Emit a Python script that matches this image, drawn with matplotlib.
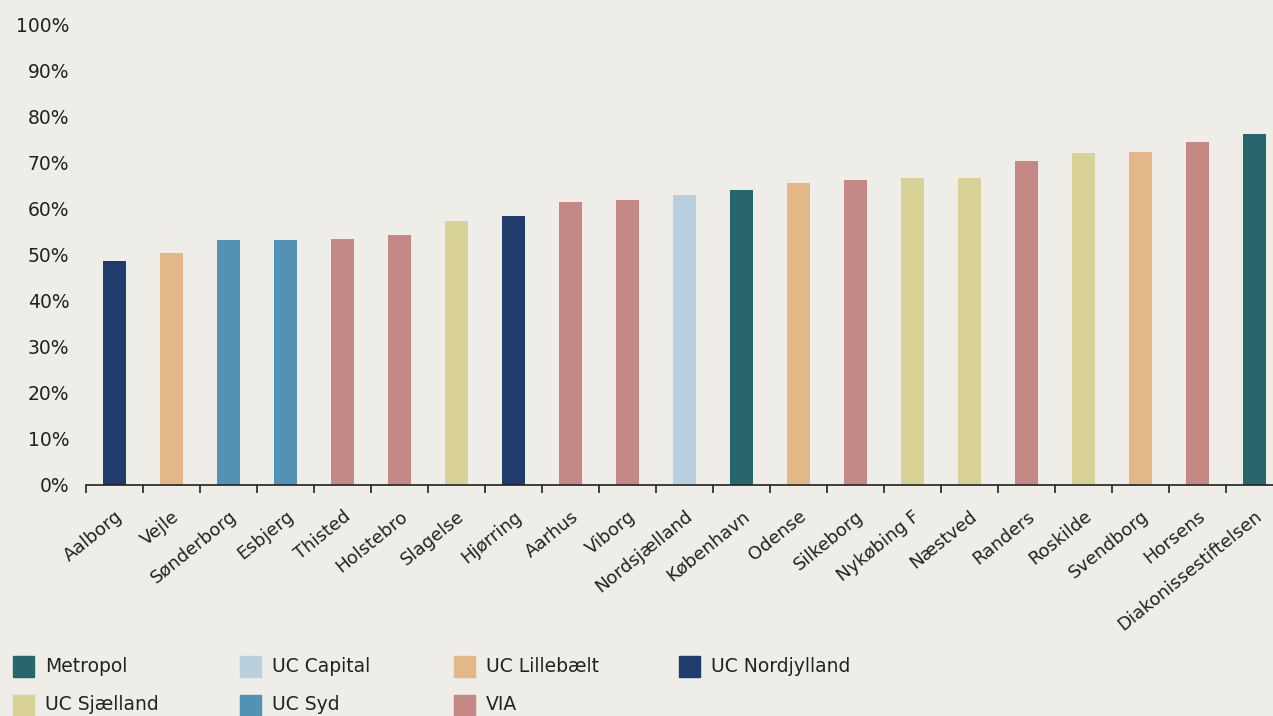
import matplotlib.pyplot as plt
from matplotlib.patches import Rectangle

# data
schools = ["Aalborg", "Vejle", "Sønderborg", "Esbjerg", "Thisted", "Holstebro",
           "Slagelse", "Hjørring", "Aarhus", "Viborg", "Nordsjælland", "København",
           "Odense", "Silkeborg", "Nykøbing F", "Næstved", "Randers", "Roskilde",
           "Svendborg", "Horsens", "Diakonissestiftelsen"]
shares = [48.6, 50.4, 53.2, 53.2, 53.4, 54.3, 57.3, 58.4, 61.3, 61.9, 62.8, 63.9,
          65.6, 66.2, 66.5, 66.7, 70.2, 72.1, 72.3, 74.3, 76.2]
owners = ["UC Nordjylland", "UC Lillebælt", "UC Syd", "UC Syd", "VIA", "VIA",
          "UC Sjælland", "UC Nordjylland", "VIA", "VIA", "UC Capital", "Metropol",
          "UC Lillebælt", "VIA", "UC Sjælland", "UC Sjælland", "VIA", "UC Sjælland",
          "UC Lillebælt", "VIA", "Metropol"]
groups = ["Metropol", "UC Capital", "UC Lillebælt", "UC Nordjylland",
          "UC Sjælland", "UC Syd", "VIA"]
groupColors = ["#28666E", "#B8D0E0", "#E3B787", "#1E3C6C",
               "#D8D296", "#5292B4", "#C48984"]
yticks = [0, 10, 20, 30, 40, 50, 60, 70, 80, 90, 100]

bg = "#EEEDE8"
W, H = 1273, 716
colorOf = dict(zip(groups, groupColors))

fig = plt.figure(figsize=(W / 100, H / 100), dpi=100, facecolor=bg)
ax = fig.add_axes([86 / W, 1 - 485 / H, 21 * 57 / W, (485 - 24) / H])
ax.set_facecolor(bg)

x = list(range(len(schools)))
ax.bar(x, shares, width=0.4, color=[colorOf[o] for o in owners])

ax.set_xlim(-0.5, len(schools) - 0.5)
ax.set_ylim(0, 100)
ax.set_yticks(yticks)
ax.set_yticklabels([f"{t}%" for t in yticks], fontsize=13.5, color="#222222")
ax.tick_params(axis="y", length=0, pad=12)

# ticks sit between the bars, labels under the bars
ax.set_xticks([i - 0.5 for i in x] + [len(schools) - 0.5])
ax.set_xticklabels([])
ax.set_xticks(x, minor=True)
ax.set_xticklabels(schools, minor=True, rotation=39, ha="right",
                   rotation_mode="anchor", fontsize=13, color="#222222")
ax.tick_params(axis="x", which="major", length=6, width=1.2, color="#222222")
ax.tick_params(axis="x", which="minor", length=0, pad=16)

for s in ["left", "right", "top"]:
    ax.spines[s].set_visible(False)
ax.spines["bottom"].set_linewidth(1.2)
ax.spines["bottom"].set_color("#222222")

# legend laid out by hand, 4 columns
colX = [13, 240, 454, 679]
rowY = [666, 705]
for k, (g, c) in enumerate(zip(groups, groupColors)):
    px = colX[k % 4]
    py = rowY[k // 4]
    fig.add_artist(Rectangle((px / W, 1 - (py + 11) / H), 21 / W, 21 / H,
                             transform=fig.transFigure, color=c))
    fig.text((px + 32) / W, 1 - py / H, g, fontsize=13.5, va="center",
             color="#222222")

fig.savefig("out.png", dpi=100, facecolor=bg)
